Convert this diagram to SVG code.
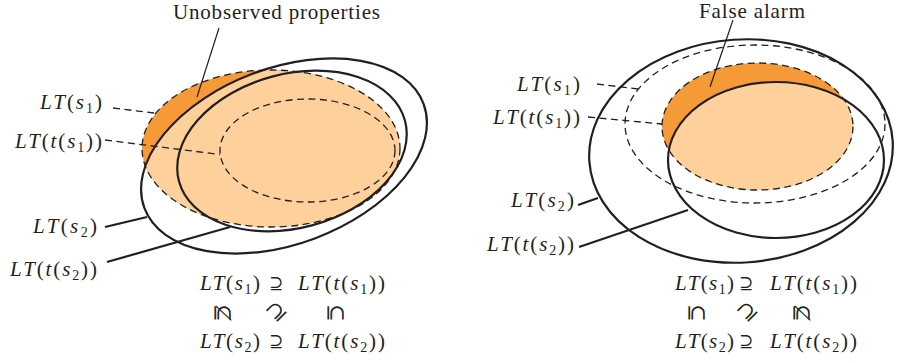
<svg xmlns="http://www.w3.org/2000/svg" width="897" height="363" viewBox="0 0 897 363">
<style>
.sol{fill:none;stroke:#231f20;stroke-width:2.2}
.dash{fill:none;stroke:#231f20;stroke-width:1.3;stroke-dasharray:7 4.5}
.thin{fill:none;stroke:#231f20;stroke-width:1.2}
.thick{fill:none;stroke:#231f20;stroke-width:2.2}
.dark{fill:#f59a37}
.light{fill:#fdd09c}
text{font-family:"Liberation Serif","DejaVu Serif",serif;font-size:21px;fill:#231f20}
.i{font-style:italic}
.sub{font-size:14px}
.sym{font-family:"DejaVu Serif","DejaVu Sans",serif;font-size:17px}
.rs{font-family:"DejaVu Serif","DejaVu Sans",serif;font-size:21px}
</style>
<defs>
<clipPath id="cL"><ellipse cx="271" cy="148.5" rx="129" ry="78.5"/></clipPath>
<clipPath id="cR"><ellipse cx="757.5" cy="126.5" rx="95.5" ry="63.5"/></clipPath>
</defs>

<!-- Left diagram -->
<g id="left-LTs1">
<ellipse class="dark" cx="271" cy="148.5" rx="129" ry="78.5"/>
<g clip-path="url(#cL)"><ellipse class="light" cx="284" cy="156" rx="149" ry="88" transform="rotate(-20.5 284 156)"/></g>
<ellipse class="dash" cx="271" cy="148.5" rx="129" ry="78.5"/>
</g>
<g id="left-LTts1">
<ellipse class="dash" cx="307.5" cy="150.5" rx="87.5" ry="51.5"/>
</g>
<g id="left-LTs2">
<ellipse class="sol" cx="284" cy="156" rx="149" ry="88" transform="rotate(-20.5 284 156)"/>
</g>
<g id="left-LTts2">
<ellipse class="sol" cx="292" cy="151" rx="117" ry="77" transform="rotate(-15 292 151)"/>
</g>

<!-- Right diagram -->
<g id="right-LTs2">
<ellipse class="sol" cx="741" cy="151" rx="152" ry="111.5" transform="rotate(-4 741 151)"/>
</g>
<g id="right-LTs1">
<ellipse class="dash" cx="755" cy="124" rx="130" ry="79"/>
</g>
<g id="right-LTts1">
<ellipse class="dark" cx="757.5" cy="126.5" rx="95.5" ry="63.5"/>
<g clip-path="url(#cR)"><ellipse class="light" cx="776" cy="160" rx="108" ry="78"/></g>
<ellipse class="dash" cx="757.5" cy="126.5" rx="95.5" ry="63.5"/>
</g>
<g id="right-LTts2">
<ellipse class="sol" cx="776" cy="160" rx="108" ry="78"/>
</g>

<!-- Connectors -->
<g id="connectors">
<line class="thin" x1="219" y1="28" x2="197" y2="97"/>
<line class="dash" x1="113" y1="108" x2="154" y2="113"/>
<line class="dash" x1="105" y1="140" x2="220" y2="154.5"/>
<line class="thick" x1="105" y1="227" x2="147" y2="217"/>
<line class="thick" x1="107" y1="262" x2="230" y2="227"/>
<line class="thin" x1="733" y1="20" x2="710" y2="87"/>
<line class="dash" x1="597" y1="84" x2="638" y2="89"/>
<line class="dash" x1="588" y1="117" x2="662" y2="124"/>
<line class="thick" x1="578" y1="205" x2="598" y2="198"/>
<line class="thick" x1="579" y1="247" x2="688" y2="210"/>
</g>

<!-- Labels -->
<g id="labels">
<text x="173" y="19" textLength="207" lengthAdjust="spacing">Unobserved properties</text>
<text x="699" y="17.5" textLength="106" lengthAdjust="spacing">False alarm</text>

<text x="40" y="109" textLength="62" lengthAdjust="spacing"><tspan class="i">LT</tspan>(<tspan class="i">s</tspan><tspan class="sub" dy="4">1</tspan><tspan dy="-4">)</tspan></text>
<text x="15" y="148" textLength="87" lengthAdjust="spacing"><tspan class="i">LT</tspan>(<tspan class="i">t</tspan>(<tspan class="i">s</tspan><tspan class="sub" dy="4">1</tspan><tspan dy="-4">))</tspan></text>
<text x="33" y="233" textLength="64" lengthAdjust="spacing"><tspan class="i">LT</tspan>(<tspan class="i">s</tspan><tspan class="sub" dy="4">2</tspan><tspan dy="-4">)</tspan></text>
<text x="10" y="276" textLength="87" lengthAdjust="spacing"><tspan class="i">LT</tspan>(<tspan class="i">t</tspan>(<tspan class="i">s</tspan><tspan class="sub" dy="4">2</tspan><tspan dy="-4">))</tspan></text>

<text x="517" y="91" textLength="63" lengthAdjust="spacing"><tspan class="i">LT</tspan>(<tspan class="i">s</tspan><tspan class="sub" dy="4">1</tspan><tspan dy="-4">)</tspan></text>
<text x="493" y="124" textLength="87" lengthAdjust="spacing"><tspan class="i">LT</tspan>(<tspan class="i">t</tspan>(<tspan class="i">s</tspan><tspan class="sub" dy="4">1</tspan><tspan dy="-4">))</tspan></text>
<text x="511" y="207" textLength="63" lengthAdjust="spacing"><tspan class="i">LT</tspan>(<tspan class="i">s</tspan><tspan class="sub" dy="4">2</tspan><tspan dy="-4">)</tspan></text>
<text x="487" y="251" textLength="87" lengthAdjust="spacing"><tspan class="i">LT</tspan>(<tspan class="i">t</tspan>(<tspan class="i">s</tspan><tspan class="sub" dy="4">2</tspan><tspan dy="-4">))</tspan></text>
</g>

<!-- Left formula -->
<g id="left-formula">
<text x="200" y="290" textLength="60" lengthAdjust="spacing"><tspan class="i">LT</tspan>(<tspan class="i">s</tspan><tspan class="sub" dy="4">1</tspan><tspan dy="-4">)</tspan></text>
<text class="sym" x="276" y="289" text-anchor="middle">⊇</text>
<text x="298" y="290" textLength="87" lengthAdjust="spacing"><tspan class="i">LT</tspan>(<tspan class="i">t</tspan>(<tspan class="i">s</tspan><tspan class="sub" dy="4">1</tspan><tspan dy="-4">))</tspan></text>
<text class="rs" x="223" y="313" text-anchor="middle" dominant-baseline="central" transform="rotate(90 223 313)">⊈</text>
<text class="rs" x="276" y="311" text-anchor="middle" dominant-baseline="central" transform="rotate(-45 276 311)">⊇</text>
<text class="rs" x="336" y="313" text-anchor="middle" dominant-baseline="central" transform="rotate(90 336 313)">⊆</text>
<text x="200" y="348" textLength="60" lengthAdjust="spacing"><tspan class="i">LT</tspan>(<tspan class="i">s</tspan><tspan class="sub" dy="4">2</tspan><tspan dy="-4">)</tspan></text>
<text class="sym" x="276" y="347" text-anchor="middle">⊇</text>
<text x="298" y="348" textLength="87" lengthAdjust="spacing"><tspan class="i">LT</tspan>(<tspan class="i">t</tspan>(<tspan class="i">s</tspan><tspan class="sub" dy="4">2</tspan><tspan dy="-4">))</tspan></text>
</g>

<!-- Right formula -->
<g id="right-formula">
<text x="675" y="290" textLength="59" lengthAdjust="spacing"><tspan class="i">LT</tspan>(<tspan class="i">s</tspan><tspan class="sub" dy="4">1</tspan><tspan dy="-4">)</tspan></text>
<text class="sym" x="746" y="289" text-anchor="middle">⊇</text>
<text x="770" y="290" textLength="87" lengthAdjust="spacing"><tspan class="i">LT</tspan>(<tspan class="i">t</tspan>(<tspan class="i">s</tspan><tspan class="sub" dy="4">1</tspan><tspan dy="-4">))</tspan></text>
<text class="rs" x="697" y="313" text-anchor="middle" dominant-baseline="central" transform="rotate(90 697 313)">⊆</text>
<text class="rs" x="747" y="311" text-anchor="middle" dominant-baseline="central" transform="rotate(-45 747 311)">⊇</text>
<text class="rs" x="802" y="313" text-anchor="middle" dominant-baseline="central" transform="rotate(90 802 313)">⊈</text>
<text x="675" y="348" textLength="59" lengthAdjust="spacing"><tspan class="i">LT</tspan>(<tspan class="i">s</tspan><tspan class="sub" dy="4">2</tspan><tspan dy="-4">)</tspan></text>
<text class="sym" x="746" y="347" text-anchor="middle">⊇</text>
<text x="770" y="348" textLength="87" lengthAdjust="spacing"><tspan class="i">LT</tspan>(<tspan class="i">t</tspan>(<tspan class="i">s</tspan><tspan class="sub" dy="4">2</tspan><tspan dy="-4">))</tspan></text>
</g>
</svg>
